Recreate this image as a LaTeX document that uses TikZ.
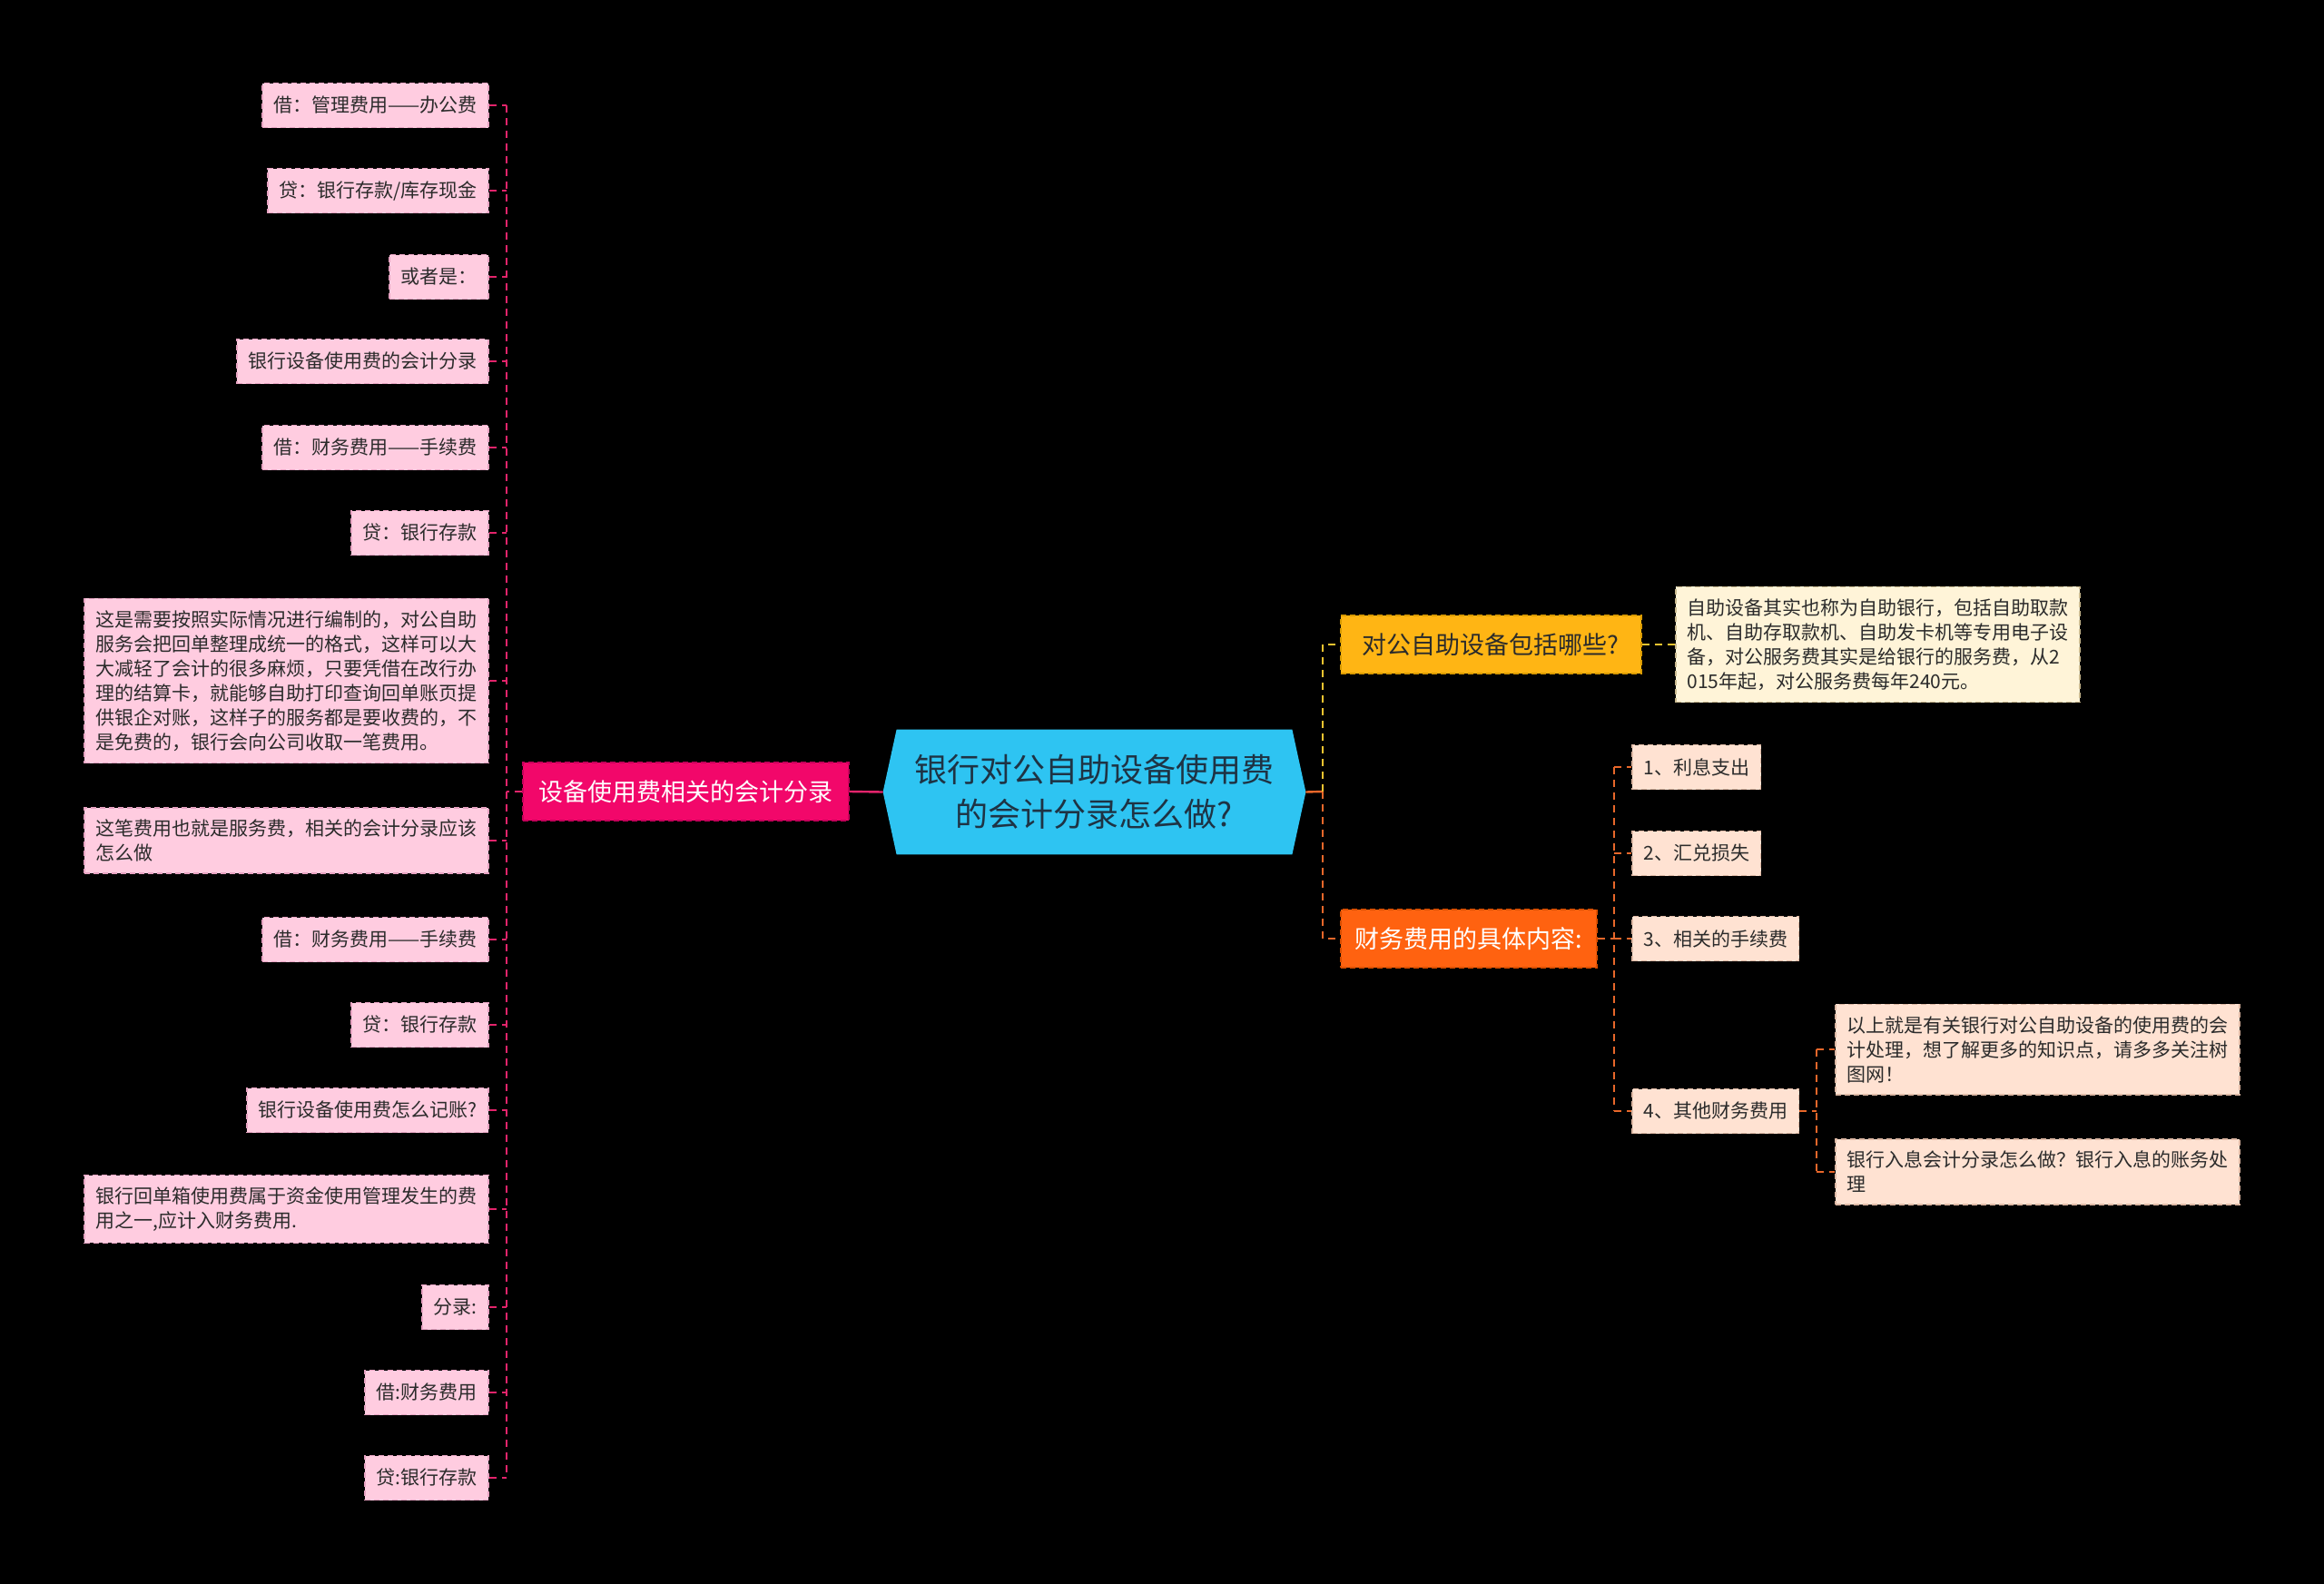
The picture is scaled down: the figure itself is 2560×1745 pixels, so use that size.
\documentclass[tikz,border=0pt]{standalone}
\usepackage{fontspec}
\setmainfont{Noto Sans CJK SC}
\usepackage{tikz}
\usetikzlibrary{calc, backgrounds}
\usepackage{xcolor}
\definecolor{rootblue}{HTML}{2EC4F2}
\definecolor{rootink}{HTML}{1E3344}
\definecolor{pinkbr}{HTML}{F2076A}
\definecolor{pinkbredge}{HTML}{C4005A}
\definecolor{pinkleaf}{HTML}{FFCCE0}
\definecolor{pinkleafedge}{HTML}{E7A3C2}
\definecolor{pinkwire}{HTML}{E3246B}
\definecolor{amber}{HTML}{FFB514}
\definecolor{amberedge}{HTML}{D99A00}
\definecolor{cream}{HTML}{FFF4D8}
\definecolor{creamedge}{HTML}{C9B98F}
\definecolor{amberwire}{HTML}{F2C430}
\definecolor{orangebr}{HTML}{FF6210}
\definecolor{orangeedge}{HTML}{D94E00}
\definecolor{peach}{HTML}{FFE2D2}
\definecolor{peachedge}{HTML}{DDB8A4}
\definecolor{orangewire}{HTML}{E8672A}
\definecolor{ink}{HTML}{2B2B2B}

\newcommand{\leaffont}{\fontsize{10.5}{13.5}\selectfont}
\newcommand{\branchfont}{\fontsize{13.5}{16}\selectfont}
\newcommand{\rootfont}{\fontsize{18}{24.5}\selectfont}

\tikzset{
  leafbox/.style={dash pattern=on 3pt off 2pt, line width=0.8pt, inner xsep=6.3pt, inner ysep=6.5pt,
    minimum height=24.5pt, align=left, text=ink, font=\leaffont},
  pinkleafbox/.style={leafbox, fill=pinkleaf, draw=pinkleafedge, anchor=east},
  creambox/.style={leafbox, fill=cream, draw=creamedge, anchor=west},
  peachbox/.style={leafbox, fill=peach, draw=peachedge, anchor=west},
  branchbox/.style={dash pattern=on 3pt off 2pt, line width=0.8pt, inner sep=0pt, minimum height=32pt, font=\branchfont},
  wire/.style={line width=1pt, dash pattern=on 4pt off 3pt},
  pinkline/.style={wire, draw=pinkwire},
  amberline/.style={wire, draw=amberwire},
  orangeline/.style={wire, draw=orangewire},
}

\begin{document}
\begin{tikzpicture}[x=0.5pt, y=-0.5pt]

\node[font=\rootfont, text=rootink, align=center, inner sep=0pt, minimum width=232.5pt, minimum height=68.5pt] (root) at (1205.5,872.5) {银行对公自助设备使用费\\的会计分录怎么做?};

\node[branchbox, fill=pinkbr, draw=pinkbredge, text=white, minimum width=179.5pt, anchor=east] (acct) at (936,872) {设备使用费相关的会计分录};

\node[pinkleafbox] (l1) at (539,116) {借：管理费用——办公费};
\node[pinkleafbox] (l2) at (539,210) {贷：银行存款/库存现金};
\node[pinkleafbox] (l3) at (539,305) {或者是：};
\node[pinkleafbox] (l4) at (539,398) {银行设备使用费的会计分录};
\node[pinkleafbox] (l5) at (539,493) {借：财务费用——手续费};
\node[pinkleafbox] (l6) at (539,587) {贷：银行存款};
\node[pinkleafbox] (l7) at (539,750) {这是需要按照实际情况进行编制的，对公自助\\服务会把回单整理成统一的格式，这样可以大\\大减轻了会计的很多麻烦，只要凭借在改行办\\理的结算卡，就能够自助打印查询回单账页提\\供银企对账，这样子的服务都是要收费的，不\\是免费的，银行会向公司收取一笔费用。};
\node[pinkleafbox] (l8) at (539,926) {这笔费用也就是服务费，相关的会计分录应该\\怎么做};
\node[pinkleafbox] (l9) at (539,1035) {借：财务费用——手续费};
\node[pinkleafbox] (l10) at (539,1129) {贷：银行存款};
\node[pinkleafbox] (l11) at (539,1223) {银行设备使用费怎么记账?};
\node[pinkleafbox] (l12) at (539,1332) {银行回单箱使用费属于资金使用管理发生的费\\用之一,应计入财务费用.};
\node[pinkleafbox] (l13) at (539,1440) {分录:};
\node[pinkleafbox] (l14) at (539,1534) {借:财务费用};
\node[pinkleafbox] (l15) at (539,1628) {贷:银行存款};

\node[branchbox, fill=amber, draw=amberedge, text=ink, minimum width=165.5pt, anchor=west] (selfsvc) at (1476,710) {对公自助设备包括哪些?};
\node[creambox] (selfinfo) at (1845,710) {自助设备其实也称为自助银行，包括自助取款\\机、自助存取款机、自助发卡机等专用电子设\\备，对公服务费其实是给银行的服务费，从2\\015年起，对公服务费每年240元。};

\node[branchbox, fill=orangebr, draw=orangeedge, text=white, minimum width=141pt, anchor=west] (finfee) at (1476,1034) {财务费用的具体内容:};
\node[peachbox] (f1) at (1797,845) {1、利息支出};
\node[peachbox] (f2) at (1797,940) {2、汇兑损失};
\node[peachbox] (f3) at (1797,1034) {3、相关的手续费};
\node[peachbox] (f4) at (1797,1224) {4、其他财务费用};
\node[peachbox] (more) at (2021,1156) {以上就是有关银行对公自助设备的使用费的会\\计处理，想了解更多的知识点，请多多关注树\\图网！};
\node[peachbox] (interest) at (2021,1291) {银行入息会计分录怎么做？银行入息的账务处\\理};

\coordinate (lbus) at (558,872);
\draw[pinkwire, line width=1.2pt] (root.west) -- (acct.east);
\draw[pinkline] (acct.west) -- (lbus);
\draw[pinkline] (lbus |- l1.east) -- (lbus |- l15.east);
\foreach \i in {1,...,15}
  \draw[pinkline] (l\i.east) -- (lbus |- l\i.east);

\coordinate (rbus) at (1457,872);
\draw[orangewire, line width=1.2pt] (root.east) -- (rbus);
\draw[amberline] (rbus) |- (selfsvc.west);
\draw[orangeline] (rbus) |- (finfee.west);
\draw[amberline] (selfsvc.east) -- (selfinfo.west);

\coordinate (fbus) at (1778,1034);
\draw[orangeline] (finfee.east) -- (fbus);
\draw[orangeline] (fbus |- f1.west) -- (fbus |- f4.west);
\foreach \i in {1,...,4}
  \draw[orangeline] (fbus |- f\i.west) -- (f\i.west);

\coordinate (gbus) at (2001,1224);
\draw[orangeline] (f4.east) -- (gbus);
\draw[orangeline] (gbus |- more.west) -- (gbus |- interest.west);
\draw[orangeline] (gbus |- more.west) -- (more.west);
\draw[orangeline] (gbus |- interest.west) -- (interest.west);

\begin{scope}[on background layer]
\fill[black] (0,0) rectangle (2560,1745);
\fill[rootblue] (root.west) -- ($(root.north west)+(15,0)$) -- ($(root.north east)+(-15,0)$) -- (root.east)
  -- ($(root.south east)+(-15,0)$) -- ($(root.south west)+(15,0)$) -- cycle;
\end{scope}
\end{tikzpicture}
\end{document}
